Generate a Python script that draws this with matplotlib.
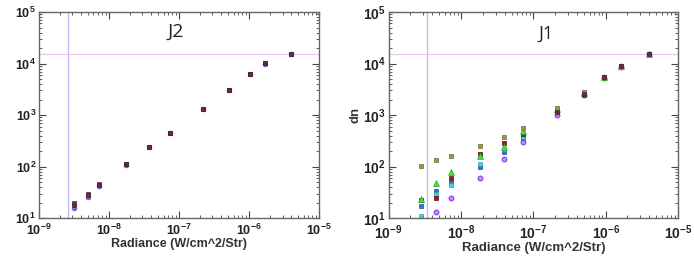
import numpy as np
import matplotlib
matplotlib.use("Agg")
import matplotlib.pyplot as plt
from matplotlib.ticker import LogLocator, NullFormatter

plt.rcParams['font.family'] = ['Liberation Sans', 'DejaVu Sans']

# J2 panel data
j2_x = [3.16e-9, 5.07e-9, 7.1e-9, 1.75e-8, 3.7e-8, 7.4e-8, 2.2e-7, 5.1e-7, 1.03e-6, 1.7e-6, 3.9e-6]
j2_blue = [15.6, 26, 42, 108, 235, 445, 1300, 3050, 6200, 10000, 15300]
j2_dark = [20, 29, 45, 112, 242, 458, 1330, 3120, 6350, 10150, 15450]
j2_maroon = [17.6, 28, 44, 111, 240, 455, 1320, 3100, 6300, 10100, 15400]
j2_vline = 2.6e-9
j2_hline = 15500

# J1 panel data
j1_x = [2.8e-9, 4.57e-9, 7.3e-9, 1.81e-8, 3.89e-8, 7.3e-8, 2.12e-7, 5.07e-7, 9.6e-7, 1.62e-6, 3.93e-6]
j1_olive = [102, 135, 163, 252, 373, 573, 1350, 2760, 5600, 9000, 15500]
j1_green = [23.7, 47, 78, 158, 244, 500, 1330, 2700, 5500, 8950, 15450]
j1_red = [22.7, 24.7, 59, 178, 290, 430, 1200, 2600, 5400, 8900, 15400]
j1_cyan = [11, 29.6, 44, 111, 220, 380, 1120, 2550, 5350, 8850, 15400]
j1_blue = [17.5, 33, 50.5, 97, 190, 355, 1080, 2500, 5300, 8800, 15350]
j1_purple = [8, 13, 24.4, 60, 141, 303, 1000, 2480, 5250, 8750, 15300]
j1_maroon = [10.5, 31, 47, 100, 200, 400, 1150, 2600, 5450, 9000, 15500]
j1_vline = 3.4e-9
j1_hline = 15500

fig = plt.figure(figsize=(6.94, 2.56), dpi=100)
ax1 = fig.add_axes([0.056, 0.148, 0.404, 0.805])
ax2 = fig.add_axes([0.560, 0.148, 0.417, 0.805])

edge = '#3a2a3a'


def style(ax, fs_tick, fs_lab):
    ax.set_xscale('log')
    ax.set_yscale('log')
    ax.set_xlim(1e-9, 1e-5)
    ax.set_ylim(10, 1e5)
    ax.xaxis.set_major_locator(LogLocator(base=10, numticks=10))
    ax.yaxis.set_major_locator(LogLocator(base=10, numticks=10))
    ax.xaxis.set_minor_locator(LogLocator(base=10, subs=np.arange(2, 10), numticks=20))
    ax.yaxis.set_minor_locator(LogLocator(base=10, subs=np.arange(2, 10), numticks=20))
    ax.xaxis.set_minor_formatter(NullFormatter())
    ax.yaxis.set_minor_formatter(NullFormatter())
    ax.tick_params(which='both', direction='in', top=True, right=True, colors='#444444')
    ax.tick_params(which='major', length=5, width=0.8, labelsize=fs_tick, labelcolor='#222222')
    ax.tick_params(axis='x', which='major', pad=3.5)
    ax.tick_params(axis='y', which='major', pad=2)
    ax.tick_params(which='minor', length=2.5, width=0.6)
    for lab in ax.get_xticklabels() + ax.get_yticklabels():
        lab.set_fontweight('bold')
    for s in ax.spines.values():
        s.set_color('#666666')
        s.set_linewidth(1.0)
    ax.set_xlabel('Radiance (W/cm^2/Str)', fontsize=fs_lab, fontweight='bold', color='#333333', labelpad=0)
    ax.set_ylabel('dn', fontsize=fs_lab, fontweight='bold', color='#333333')


style(ax1, 9, 9)
style(ax2, 10, 9.5)
ax1.yaxis.set_label_coords(-0.13, 0.5)
ax2.yaxis.set_label_coords(-0.095, 0.5)

ms = 3.4
# J2
ax1.axvline(j2_vline, color='#b8b8ee', lw=0.9)
ax1.axhline(j2_hline, color='#eec8ee', lw=0.9)
ax1.plot(j2_x, j2_blue, 'o', ms=ms, color='#6f6fe0', mec='#5050c0', mew=0.5, ls='none')
ax1.plot(j2_x, j2_dark, 's', ms=ms - 0.6, color='#505050', mec='#303030', mew=0.5, ls='none')
ax1.plot(j2_x, j2_maroon, 's', ms=ms, color='#7a1f4a', mec=edge, mew=0.5, ls='none')
ax1.text(0.49, 0.95, 'J2', transform=ax1.transAxes, ha='center', va='top', fontsize=14,
         family=['Open Sans', 'DejaVu Sans'], color='#222222')

# J1
ax2.axvline(j1_vline, color='#b8b8ee', lw=0.9)
ax2.axhline(j1_hline, color='#eec8ee', lw=0.9)
ax2.plot(j1_x, j1_purple, 'o', ms=ms, color='#c090ff', mec='#8a3cf0', mew=0.8, ls='none')
ax2.plot(j1_x, j1_blue, 's', ms=ms, color='#3a6ad8', mec='#2a4aa0', mew=0.5, ls='none')
ax2.plot(j1_x, j1_cyan, 's', ms=ms, color='#40d0e0', mec='#30a0b0', mew=0.5, ls='none')
ax2.plot(j1_x, j1_red, 's', ms=ms, color='#9a2020', mec='#501010', mew=0.5, ls='none')
ax2.plot(j1_x, j1_green, '^', ms=ms + 0.4, color='#40e040', mec='#30b030', mew=0.5, ls='none')
ax2.plot(j1_x, j1_olive, 's', ms=ms, color='#9a9a40', mec='#6a6a30', mew=0.5, ls='none')
ax2.plot(j1_x[6:], j1_maroon[6:], 's', ms=ms, color='#7a1f4a', mec=edge, mew=0.5, ls='none')
ax2.text(0.543, 0.94, 'J1', transform=ax2.transAxes, ha='center', va='top', fontsize=13,
         family=['Open Sans', 'DejaVu Sans'], color='#222222')

fig.savefig('out.png', dpi=100)
